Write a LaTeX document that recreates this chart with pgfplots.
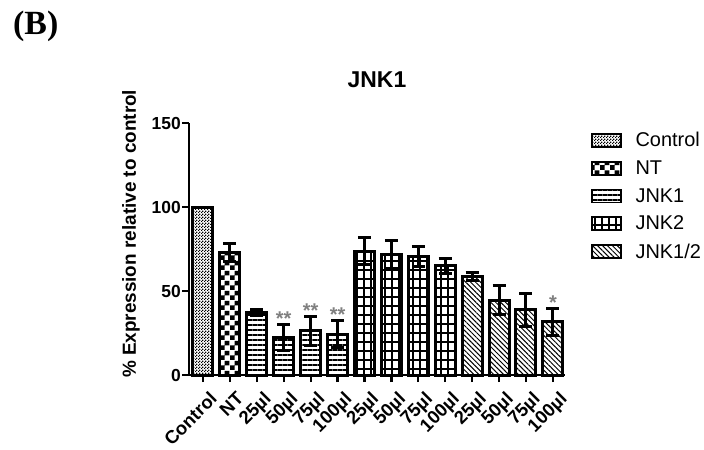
\documentclass[border=0pt]{standalone}
\usepackage{pgfplots}
\pgfplotsset{compat=1.18}
\usepackage{fontspec}
\setmainfont{Liberation Sans}
\newfontfamily\serifB{Liberation Serif}
\usetikzlibrary{patterns,patterns.meta}

% fill patterns of the five groups
\pgfdeclarepatternformonly{finechk}{\pgfqpoint{0bp}{0bp}}{\pgfqpoint{3bp}{3bp}}{\pgfqpoint{3bp}{3bp}}{%
  \pgfpathrectangle{\pgfqpoint{0bp}{0bp}}{\pgfqpoint{1.5bp}{1.5bp}}%
  \pgfpathrectangle{\pgfqpoint{1.5bp}{1.5bp}}{\pgfqpoint{1.5bp}{1.5bp}}%
  \pgfusepath{fill}}
\pgfdeclarepatternformonly{bigchk}{\pgfqpoint{0bp}{0bp}}{\pgfqpoint{10bp}{10bp}}{\pgfqpoint{10bp}{10bp}}{%
  \pgfpathrectangle{\pgfqpoint{0bp}{0bp}}{\pgfqpoint{5bp}{5bp}}%
  \pgfpathrectangle{\pgfqpoint{5bp}{5bp}}{\pgfqpoint{5bp}{5bp}}%
  \pgfusepath{fill}}
\pgfdeclarepatternformonly{jgrid}{\pgfqpoint{-1bp}{-1bp}}{\pgfqpoint{8bp}{10bp}}{\pgfqpoint{7bp}{9bp}}{%
  \pgfsetlinewidth{1.5bp}%
  \pgfpathmoveto{\pgfqpoint{-1bp}{0bp}}\pgfpathlineto{\pgfqpoint{8bp}{0bp}}%
  \pgfpathmoveto{\pgfqpoint{0bp}{-1bp}}\pgfpathlineto{\pgfqpoint{0bp}{10bp}}%
  \pgfusepath{stroke}}

\pgfplotsset{
  bb/.style={draw=black, line width=3bp, bar shift=0pt,
    legend image code/.code={\draw[##1,line width=1.8bp] (0bp,-6.5bp) rectangle (29bp,6.5bp);},
    error bars/y dir=both, error bars/y explicit,
    error bars/error bar style={line width=3bp,black},
    error bars/error mark options={rotate=90, mark size=6.5bp, line width=3bp, black}},
}
\tikzset{star/.style={anchor=base, text=gray, font=\bfseries\fontsize{20}{20}\selectfont, inner sep=0pt}}

\begin{document}
\begin{tikzpicture}
\useasboundingbox (0,0) rectangle (704bp,-450bp);
\node[anchor=north west, inner sep=0pt, font=\serifB\bfseries\fontsize{34}{34}\selectfont] at (13bp,-11bp) {(B)};
\begin{axis}[
    scale only axis, width=376bp, height=252bp,
    at={(189bp,-375bp)}, anchor=south west,
    ybar, bar width=20bp,
    xmin=-0.52, xmax=13.45, ymin=0, ymax=150,
    axis lines*=left,
    axis line style={line width=2.8bp},
    ytick={0,50,100,150}, xtick={0,...,13},
    xticklabels={Control,NT,25µl,50µl,75µl,100µl,25µl,50µl,75µl,100µl,25µl,50µl,75µl,100µl},
    tick align=outside, major tick length=7bp,
    tick style={line width=2.2bp, black},
    /pgf/number format/assume math mode=true,
    x tick label style={rotate=45, anchor=north east, inner sep=0pt, yshift=-10bp, xshift=-2bp,
      font=\bfseries\fontsize{18.5}{18.5}\selectfont},
    y tick label style={inner sep=1bp, font=\bfseries\fontsize{17.5}{17.5}\selectfont},
    title={JNK1},
    title style={font=\bfseries\fontsize{23}{23}\selectfont, at={(0.5,1)}, anchor=base, yshift=30bp},
    ylabel={\% Expression relative to control},
    ylabel style={font=\bfseries\fontsize{19}{19}\selectfont, at={(axis description cs:-0.154,0.56)}, anchor=center},
    legend style={at={(axis description cs:1.06,0.98)}, anchor=north west, draw=none, fill=none,
      font=\fontsize{20}{20}\selectfont, row sep=8.5bp,
      /tikz/every odd column/.append style={column sep=12bp}},
    legend cell align=left,
    clip=false,
]
\addplot[pattern=finechk, bb] coordinates {(0,100) +- (0,0)};
\addlegendentry{Control}
\addplot[pattern=bigchk, bb] coordinates {(1,72.8) +- (0,5.2)};
\addlegendentry{NT}
\addplot[pattern={Lines[angle=0,distance=5bp,line width=1.5bp]}, bb] coordinates {
  (2,37.3) +- (0,1.7) (3,22.4) +- (0,7.8) (4,26.4) +- (0,8.6) (5,24.2) +- (0,8.1)};
\addlegendentry{JNK1}
\addplot[pattern=jgrid, bb] coordinates {
  (6,73.8) +- (0,8.2) (7,71.6) +- (0,8.4) (8,70.4) +- (0,6.0) (9,64.9) +- (0,4.4)};
\addlegendentry{JNK2}
\addplot[pattern={Lines[angle=-45,distance=3.5bp,line width=1bp]}, bb] coordinates {
  (10,58.5) +- (0,2.4) (11,44.6) +- (0,8.6) (12,38.7) +- (0,9.9) (13,31.7) +- (0,8.0)};
\addlegendentry{JNK1/2}
\node[star] at (axis cs:3,29.5) {**};
\node[star] at (axis cs:4,34.3) {**};
\node[star] at (axis cs:5,31.6) {**};
\node[star] at (axis cs:13,39.0) {*};
\end{axis}
\end{tikzpicture}
\end{document}
